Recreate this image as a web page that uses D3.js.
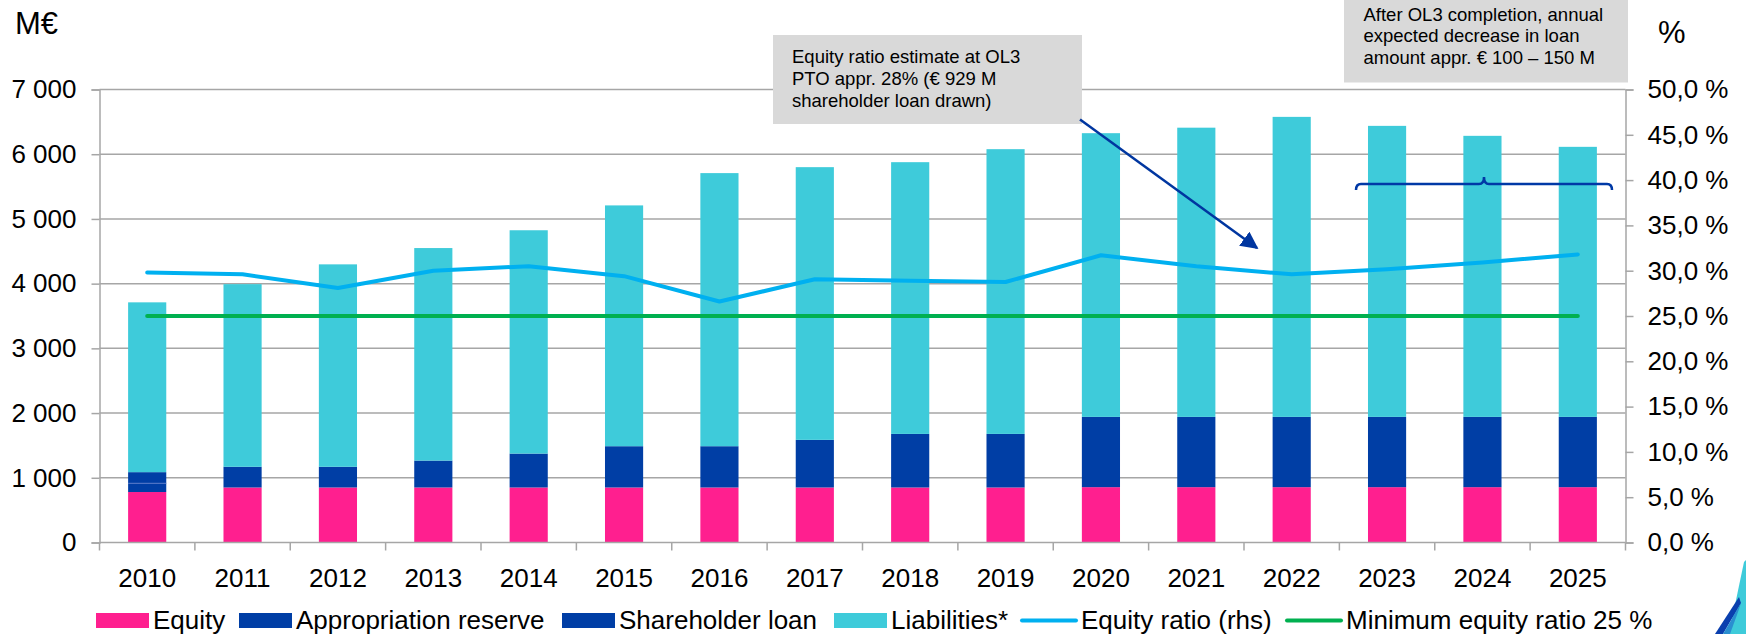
<!DOCTYPE html>
<html>
<head>
<meta charset="utf-8">
<script src="https://cdn.jsdelivr.net/npm/d3@7"></script>
<style>
  html, body { margin: 0; padding: 0; background: #fff; }
  svg { display: block; font-family: "Liberation Sans", Arial, sans-serif; }
</style>
</head>
<body>
<svg id="chart" width="1746" height="634"></svg>
<script>
// ---- data ----
const years = ["2010","2011","2012","2013","2014","2015","2016","2017","2018","2019","2020","2021","2022","2023","2024","2025"];
const equity = [780, 850, 850, 850, 850, 850, 850, 850, 850, 850, 855, 855, 855, 855, 855, 855];
const appropriationReserve = [135, 0, 0, 0, 0, 0, 0, 0, 0, 0, 0, 0, 0, 0, 0, 0];
const shareholderLoan = [172, 320, 320, 416, 524, 638, 638, 736, 828, 828, 1086, 1086, 1086, 1086, 1086, 1086];
const liabilities = [2624, 2822, 3128, 3284, 3451, 3721, 4220, 4214, 4199, 4400, 4384, 4469, 4636, 4497, 4343, 4173];
const equityRatio = [29.8, 29.6, 28.1, 30.0, 30.5, 29.4, 26.6, 29.05, 28.9, 28.75, 31.7, 30.5, 29.6, 30.15, 30.9, 31.8];
const minEquityRatio = [25, 25, 25, 25, 25, 25, 25, 25, 25, 25, 25, 25, 25, 25, 25, 25];
const leftTicks = [0, 1000, 2000, 3000, 4000, 5000, 6000, 7000];
const rightTicks = [0, 5, 10, 15, 20, 25, 30, 35, 40, 45, 50];
const legendLabels = ["Equity", "Appropriation reserve", "Shareholder loan", "Liabilities*", "Equity ratio (rhs)", "Minimum equity ratio 25 %"];
const note1 = ["Equity ratio estimate at OL3", "PTO appr. 28% (\u20AC 929 M", "shareholder loan drawn)"];
const note2 = ["After OL3 completion, annual", "expected decrease in loan", "amount appr. \u20AC 100 \u2013 150 M"];

// ---- setup ----
const svg = d3.select("#chart");
const L = 99.5, R = 1625.5, T = 89.5, B = 542.5;
const C = { equity: "#FF1F8F", dark: "#003EA5", liab: "#3ECBDA", ratio: "#00B0F0", min: "#00B050", grid: "#A6A6A6", box: "#D9D9D9", arrow: "#0036A0" };

const x = d3.scaleBand().domain(years).range([L, R]).padding(0);
const y = d3.scaleLinear().domain([0, 7000]).range([B, T]);
const y2 = d3.scaleLinear().domain([0, 50]).range([B, T]);
const barW = x.bandwidth() * 0.4;
const cx = d => x(d) + x.bandwidth() / 2;

// gridlines
svg.append("g").selectAll("line").data(leftTicks.slice(1)).join("line")
  .attr("x1", L).attr("x2", R).attr("y1", d => y(d)).attr("y2", d => y(d))
  .attr("stroke", C.grid).attr("stroke-width", 1.5);

// stacked bars
const rows = years.map((yr, i) => ({ year: yr, equity: equity[i], appr: appropriationReserve[i], loan: shareholderLoan[i], liab: liabilities[i] }));
const keys = ["equity", "appr", "loan", "liab"];
const colors = { equity: C.equity, appr: C.dark, loan: C.dark, liab: C.liab };
const stacked = d3.stack().keys(keys)(rows);
const bars = svg.append("g");
stacked.forEach(layer => {
  bars.append("g").selectAll("rect").data(layer).join("rect")
    .attr("x", d => x(d.data.year) + (x.bandwidth() - barW) / 2)
    .attr("width", barW)
    .attr("y", d => y(d[1]))
    .attr("height", d => Math.max(0, y(d[0]) - y(d[1])))
    .attr("fill", colors[layer.key]);
});
// thin separator inside the 2010 dark segment (reserve / loan boundary)
bars.append("g").selectAll("line").data(stacked[1].filter(d => d[1] - d[0] > 0)).join("line")
  .attr("x1", d => x(d.data.year) + (x.bandwidth() - barW) / 2)
  .attr("x2", d => x(d.data.year) + (x.bandwidth() + barW) / 2)
  .attr("y1", d => y(d[1])).attr("y2", d => y(d[1]))
  .attr("stroke", "#5577C8").attr("stroke-width", 1);

// left axis
const yAxis = d3.axisLeft(y).tickValues(leftTicks).tickSize(8).tickPadding(15)
  .tickFormat(d => d3.format(",")(d).replace(/,/g, " "));
const gl = svg.append("g").attr("transform", `translate(${L},0)`).call(yAxis);
// right axis
const yAxis2 = d3.axisRight(y2).tickValues(rightTicks).tickSize(8).tickPadding(14)
  .tickFormat(d => d3.format(".1f")(d).replace(".", ",") + " %");
const gr = svg.append("g").attr("transform", `translate(${R},0)`).call(yAxis2);
// bottom axis
const xAxis = d3.axisBottom(x).tickSize(0).tickPadding(26);
const gb = svg.append("g").attr("transform", `translate(0,${B})`).call(xAxis);
gb.append("g").selectAll("line").data(years.concat(["end"])).join("line")
  .attr("x1", (d, i) => L + i * x.bandwidth()).attr("x2", (d, i) => L + i * x.bandwidth())
  .attr("y1", 0).attr("y2", 8).attr("stroke", C.grid).attr("stroke-width", 1.5);

[gl, gr, gb].forEach(g => {
  g.selectAll(".domain").attr("stroke", C.grid).attr("stroke-width", 1.5);
  g.selectAll(".tick line").attr("stroke", C.grid).attr("stroke-width", 1.5);
  g.selectAll("text").attr("font-size", 26).attr("fill", "#000").attr("font-family", "Liberation Sans, Arial, sans-serif");
});
gb.select(".domain").attr("d", `M${L},0H${R}`);

// lines
const ratioLine = d3.line().x((d, i) => cx(years[i])).y(d => y2(d));
svg.append("path").datum(minEquityRatio).attr("d", ratioLine)
  .attr("fill", "none").attr("stroke", C.min).attr("stroke-width", 4).attr("stroke-linecap", "round");
svg.append("path").datum(equityRatio).attr("d", ratioLine)
  .attr("fill", "none").attr("stroke", C.ratio).attr("stroke-width", 4).attr("stroke-linecap", "round").attr("stroke-linejoin", "round");

// axis titles
svg.append("text").attr("x", 15).attr("y", 34).attr("font-size", 31).text("M\u20AC");
svg.append("text").attr("x", 1658).attr("y", 43).attr("font-size", 31).text("%");

// annotation boxes
function noteBox(bx, by, bw, bh, lines, tx, ty) {
  svg.append("rect").attr("x", bx).attr("y", by).attr("width", bw).attr("height", bh).attr("fill", C.box);
  const t = svg.append("text").attr("font-size", 18.5).attr("fill", "#000");
  lines.forEach((l, i) => t.append("tspan").attr("x", tx).attr("y", ty + i * 21.7).text(l));
}
noteBox(773, 35, 309, 89, note1, 792, 63.3);
noteBox(1344, 0, 284, 82.5, note2, 1363.5, 20.7);

// arrow
const defs = svg.append("defs");
defs.append("marker").attr("id", "ah").attr("viewBox", "0 0 10 10").attr("refX", 9).attr("refY", 5)
  .attr("markerWidth", 7).attr("markerHeight", 7).attr("markerUnits", "strokeWidth").attr("orient", "auto")
  .append("path").attr("d", "M0,0L10,5L0,10Z").attr("fill", C.arrow);
svg.append("line").attr("x1", 1080).attr("y1", 119.5).attr("x2", 1257).attr("y2", 248)
  .attr("stroke", C.arrow).attr("stroke-width", 2.5).attr("marker-end", "url(#ah)");

// bracket
svg.append("path")
  .attr("d", "M1356,190 Q1356,184 1361,184 L1479,184 Q1484,184 1484,177 Q1484,184 1489,184 L1607,184 Q1612,184 1612,190")
  .attr("fill", "none").attr("stroke", "#0039A6").attr("stroke-width", 2.5);

// legend
const legend = svg.append("g").attr("font-size", 26).attr("fill", "#000");
const legendItems = [
  { type: "rect", color: C.equity, x0: 96, tx: 153 },
  { type: "rect", color: C.dark, x0: 239, tx: 296 },
  { type: "rect", color: C.dark, x0: 562, tx: 619 },
  { type: "rect", color: C.liab, x0: 834, tx: 891 },
  { type: "line", color: C.ratio, x0: 1022, tx: 1081 },
  { type: "line", color: C.min, x0: 1287, tx: 1346 }
];
legendItems.forEach((it, i) => {
  if (it.type === "rect") {
    legend.append("rect").attr("x", it.x0).attr("y", 613).attr("width", 53).attr("height", 15).attr("fill", it.color);
  } else {
    legend.append("line").attr("x1", it.x0).attr("x2", it.x0 + 54).attr("y1", 620.5).attr("y2", 620.5)
      .attr("stroke", it.color).attr("stroke-width", 4).attr("stroke-linecap", "round");
  }
  legend.append("text").attr("x", it.tx).attr("y", 629).text(legendLabels[i]);
});

// corner decoration (partial logo swoosh)
svg.append("path").attr("d", "M1744,562 L1746,560 L1746,634 L1729,634 Q1736,600 1744,562 Z").attr("fill", C.liab);
svg.append("path").attr("d", "M1739,597 L1715,634 L1723,634 L1741,603 Z").attr("fill", "#0A3FAE");
svg.append("path").attr("d", "M1741,603 L1723,634 L1730,634 L1738,612 Z").attr("fill", "#2A8FD0");
</script>
</body>
</html>
